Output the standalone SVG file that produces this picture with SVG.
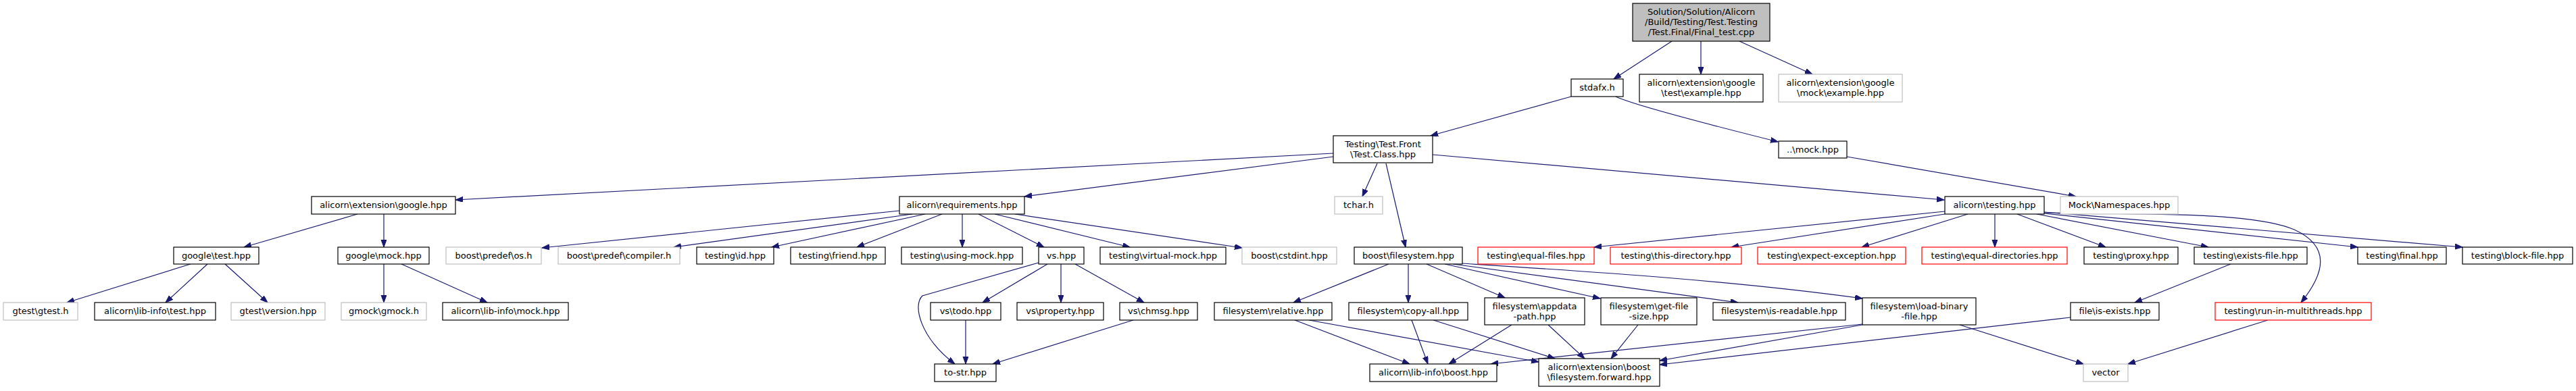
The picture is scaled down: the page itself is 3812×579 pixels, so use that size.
<svg xmlns="http://www.w3.org/2000/svg" width="3812" height="579" viewBox="0 0 3812 579">
<style>
.n rect{fill:#fff;stroke:#000;stroke-width:1.2}
.n.g rect{stroke:#bfbfbf}
.n.r rect{stroke:#ff0000}
.n.root rect{fill:#bfbfbf}
.n text{font-family:"DejaVu Sans",sans-serif;font-size:13px;fill:#000;text-anchor:middle}
#edges path{fill:none;stroke:#191970;stroke-width:1.2;marker-end:url(#ah)}
</style>
<defs>
<marker id="ah" markerUnits="userSpaceOnUse" markerWidth="12" markerHeight="9" refX="11" refY="4" orient="auto">
<path d="M0,0 L11,4 L0,8 z" fill="#191970" stroke="#191970" stroke-width="1"/>
</marker>
</defs>
<rect width="3812" height="579" fill="#fff"/>
<g id="edges">
<path d="M2474,61 L2388,117"/>
<path d="M2517,61 L2517,110"/>
<path d="M2574,61 L2682,110"/>
<path d="M2325,143 L2117,201"/>
<path d="M2391,143 Q2420,157 2631,210"/>
<path d="M2733,232 L3072,291"/>
<path d="M2120,229 L2877,296"/>
<path d="M1973,227 L674,296"/>
<path d="M1973,232 L1516,291"/>
<path d="M2038,242 L2016,291"/>
<path d="M2051,242 L2080,366"/>
<path d="M529,317 L361,366"/>
<path d="M568,317 L568,366"/>
<path d="M282,391 L99,448"/>
<path d="M307,391 L245,448"/>
<path d="M333,391 L396,448"/>
<path d="M568,391 L568,448"/>
<path d="M594,391 L721,448"/>
<path d="M1331,312 L802,367"/>
<path d="M1350,317 L997,366"/>
<path d="M1369,317 L1142,366"/>
<path d="M1394,317 L1268,366"/>
<path d="M1424,317 L1424,366"/>
<path d="M1448,317 L1545,366"/>
<path d="M1472,317 L1672,366"/>
<path d="M1502,317 L1838,367"/>
<path d="M1537,389 L1365,438 C1350,452 1362,500 1413,539"/>
<path d="M1550,391 L1454,448"/>
<path d="M1570,391 L1570,448"/>
<path d="M1591,391 L1693,448"/>
<path d="M1429,474 L1429,539"/>
<path d="M1677,474 L1469,539"/>
<path d="M2055,391 L1914,448"/>
<path d="M2084,391 L2084,448"/>
<path d="M2111,391 L2227,441"/>
<path d="M2138,391 L2368,442"/>
<path d="M2150,391 L2572,448"/>
<path d="M2164,390 C2350,402 2560,415 2756,442"/>
<path d="M2089,474 L2113,539"/>
<path d="M2121,474 L2301,531"/>
<path d="M1916,474 L2086,539"/>
<path d="M1937,474 L2277,536"/>
<path d="M2237,481 L2144,539"/>
<path d="M2291,481 L2345,531"/>
<path d="M2424,481 L2384,531"/>
<path d="M2756,480 L2206,539"/>
<path d="M2756,481 L2456,534"/>
<path d="M3064,470 L2456,540"/>
<path d="M2900,481 L3083,539"/>
<path d="M3356,474 L3149,539"/>
<path d="M3301,391 L3159,448"/>
<path d="M2878,313 L2359,366"/>
<path d="M2878,317 L2562,366"/>
<path d="M2912,317 L2755,366"/>
<path d="M2952,317 L2952,366"/>
<path d="M2985,317 L3116,366"/>
<path d="M3014,317 L3268,366"/>
<path d="M3025,316 L3489,366"/>
<path d="M3025,314 L3644,366"/>
<path d="M3025,315 C3150,318 3330,312 3395,340 C3450,365 3440,405 3405,448"/>
</g>
<g id="root" class="n root"><rect x="2416" y="5" width="203" height="56"/><text x="2517.5" y="22">Solution/Solution/Alicorn</text><text x="2517.5" y="37">/Build/Testing/Test.Testing</text><text x="2517.5" y="52">/Test.Final/Final_test.cpp</text></g>
<g id="stdafx" class="n"><rect x="2325" y="117" width="77" height="26"/><text x="2363.5" y="134">stdafx.h</text></g>
<g id="ex_test" class="n"><rect x="2426" y="110" width="183" height="41"/><text x="2517.5" y="127">alicorn\extension\google</text><text x="2517.5" y="142">\test\example.hpp</text></g>
<g id="ex_mock" class="n g"><rect x="2632" y="110" width="183" height="41"/><text x="2723.5" y="127">alicorn\extension\google</text><text x="2723.5" y="142">\mock\example.hpp</text></g>
<g id="testclass" class="n"><rect x="1973" y="201" width="147" height="40"/><text x="2046.5" y="217.5">Testing\Test.Front</text><text x="2046.5" y="232.5">\Test.Class.hpp</text></g>
<g id="mock" class="n"><rect x="2632" y="209" width="101" height="25"/><text x="2682.5" y="225.5">..\mock.hpp</text></g>
<g id="google" class="n"><rect x="461" y="291" width="213" height="26"/><text x="567.5" y="308">alicorn\extension\google.hpp</text></g>
<g id="requirements" class="n"><rect x="1331" y="291" width="185" height="26"/><text x="1423.5" y="308">alicorn\requirements.hpp</text></g>
<g id="tchar" class="n g"><rect x="1975" y="291" width="71" height="26"/><text x="2010.5" y="308">tchar.h</text></g>
<g id="testing" class="n"><rect x="2878" y="291" width="147" height="26"/><text x="2951.5" y="308">alicorn\testing.hpp</text></g>
<g id="namespaces" class="n g"><rect x="3049" y="291" width="174" height="26"/><text x="3136" y="308">Mock\Namespaces.hpp</text></g>
<g id="gtest_test" class="n"><rect x="257" y="366" width="126" height="25"/><text x="320" y="382.5">google\test.hpp</text></g>
<g id="gmock_mock" class="n"><rect x="500" y="366" width="135" height="25"/><text x="567.5" y="382.5">google\mock.hpp</text></g>
<g id="os" class="n g"><rect x="660" y="366" width="141" height="25"/><text x="730.5" y="382.5">boost\predef\os.h</text></g>
<g id="compiler" class="n g"><rect x="826" y="366" width="180" height="25"/><text x="916" y="382.5">boost\predef\compiler.h</text></g>
<g id="id" class="n"><rect x="1031" y="366" width="114" height="25"/><text x="1088" y="382.5">testing\id.hpp</text></g>
<g id="friend" class="n"><rect x="1170" y="366" width="140" height="25"/><text x="1240" y="382.5">testing\friend.hpp</text></g>
<g id="usingmock" class="n"><rect x="1334" y="366" width="179" height="25"/><text x="1423.5" y="382.5">testing\using-mock.hpp</text></g>
<g id="vs" class="n"><rect x="1537" y="366" width="67" height="25"/><text x="1570.5" y="382.5">vs.hpp</text></g>
<g id="virtualmock" class="n"><rect x="1628" y="366" width="186" height="25"/><text x="1721" y="382.5">testing\virtual-mock.hpp</text></g>
<g id="cstdint" class="n g"><rect x="1838" y="366" width="140" height="25"/><text x="1908" y="382.5">boost\cstdint.hpp</text></g>
<g id="bfs" class="n"><rect x="2004" y="366" width="160" height="25"/><text x="2084" y="382.5">boost\filesystem.hpp</text></g>
<g id="equalfiles" class="n r"><rect x="2187" y="366" width="172" height="25"/><text x="2273" y="382.5">testing\equal-files.hpp</text></g>
<g id="thisdir" class="n r"><rect x="2383" y="366" width="194" height="25"/><text x="2480" y="382.5">testing\this-directory.hpp</text></g>
<g id="expect" class="n r"><rect x="2601" y="366" width="219" height="25"/><text x="2710.5" y="382.5">testing\expect-exception.hpp</text></g>
<g id="equaldirs" class="n r"><rect x="2844" y="366" width="215" height="25"/><text x="2951.5" y="382.5">testing\equal-directories.hpp</text></g>
<g id="proxy" class="n"><rect x="3084" y="366" width="139" height="25"/><text x="3153.5" y="382.5">testing\proxy.hpp</text></g>
<g id="existsfile" class="n"><rect x="3247" y="366" width="167" height="25"/><text x="3330.5" y="382.5">testing\exists-file.hpp</text></g>
<g id="final" class="n"><rect x="3489" y="366" width="131" height="25"/><text x="3554.5" y="382.5">testing\final.hpp</text></g>
<g id="blockfile" class="n"><rect x="3644" y="366" width="163" height="25"/><text x="3725.5" y="382.5">testing\block-file.hpp</text></g>
<g id="gtest_h" class="n g"><rect x="5" y="448" width="110" height="26"/><text x="60" y="465">gtest\gtest.h</text></g>
<g id="libtest" class="n"><rect x="140" y="448" width="179" height="26"/><text x="229.5" y="465">alicorn\lib-info\test.hpp</text></g>
<g id="version" class="n g"><rect x="342" y="448" width="139" height="26"/><text x="411.5" y="465">gtest\version.hpp</text></g>
<g id="gmock_h" class="n g"><rect x="505" y="448" width="126" height="26"/><text x="568" y="465">gmock\gmock.h</text></g>
<g id="libmock" class="n"><rect x="655" y="448" width="186" height="26"/><text x="748" y="465">alicorn\lib-info\mock.hpp</text></g>
<g id="todo" class="n"><rect x="1377" y="448" width="104" height="26"/><text x="1429" y="465">vs\todo.hpp</text></g>
<g id="property" class="n"><rect x="1505" y="448" width="128" height="26"/><text x="1569" y="465">vs\property.hpp</text></g>
<g id="chmsg" class="n"><rect x="1657" y="448" width="115" height="26"/><text x="1714.5" y="465">vs\chmsg.hpp</text></g>
<g id="relative" class="n"><rect x="1797" y="448" width="174" height="26"/><text x="1884" y="465">filesystem\relative.hpp</text></g>
<g id="copyall" class="n"><rect x="1996" y="448" width="176" height="26"/><text x="2084" y="465">filesystem\copy-all.hpp</text></g>
<g id="appdata" class="n"><rect x="2197" y="441" width="148" height="40"/><text x="2271" y="457.5">filesystem\appdata</text><text x="2271" y="472.5">-path.hpp</text></g>
<g id="getsize" class="n"><rect x="2369" y="441" width="142" height="40"/><text x="2440" y="457.5">filesystem\get-file</text><text x="2440" y="472.5">-size.hpp</text></g>
<g id="readable" class="n"><rect x="2535" y="448" width="196" height="26"/><text x="2633" y="465">filesystem\is-readable.hpp</text></g>
<g id="loadbin" class="n"><rect x="2756" y="441" width="168" height="40"/><text x="2840" y="457.5">filesystem\load-binary</text><text x="2840" y="472.5">-file.hpp</text></g>
<g id="isexists" class="n"><rect x="3064" y="448" width="131" height="26"/><text x="3129.5" y="465">file\is-exists.hpp</text></g>
<g id="runmt" class="n r"><rect x="3278" y="448" width="231" height="26"/><text x="3393.5" y="465">testing\run-in-multithreads.hpp</text></g>
<g id="tostr" class="n"><rect x="1383" y="539" width="91" height="26"/><text x="1428.5" y="556">to-str.hpp</text></g>
<g id="libboost" class="n"><rect x="2027" y="539" width="188" height="26"/><text x="2121" y="556">alicorn\lib-info\boost.hpp</text></g>
<g id="forward" class="n"><rect x="2277" y="531" width="179" height="41"/><text x="2366.5" y="548">alicorn\extension\boost</text><text x="2366.5" y="563">\filesystem.forward.hpp</text></g>
<g id="vector" class="n g"><rect x="3083" y="539" width="66" height="26"/><text x="3116" y="556">vector</text></g>
</svg>
